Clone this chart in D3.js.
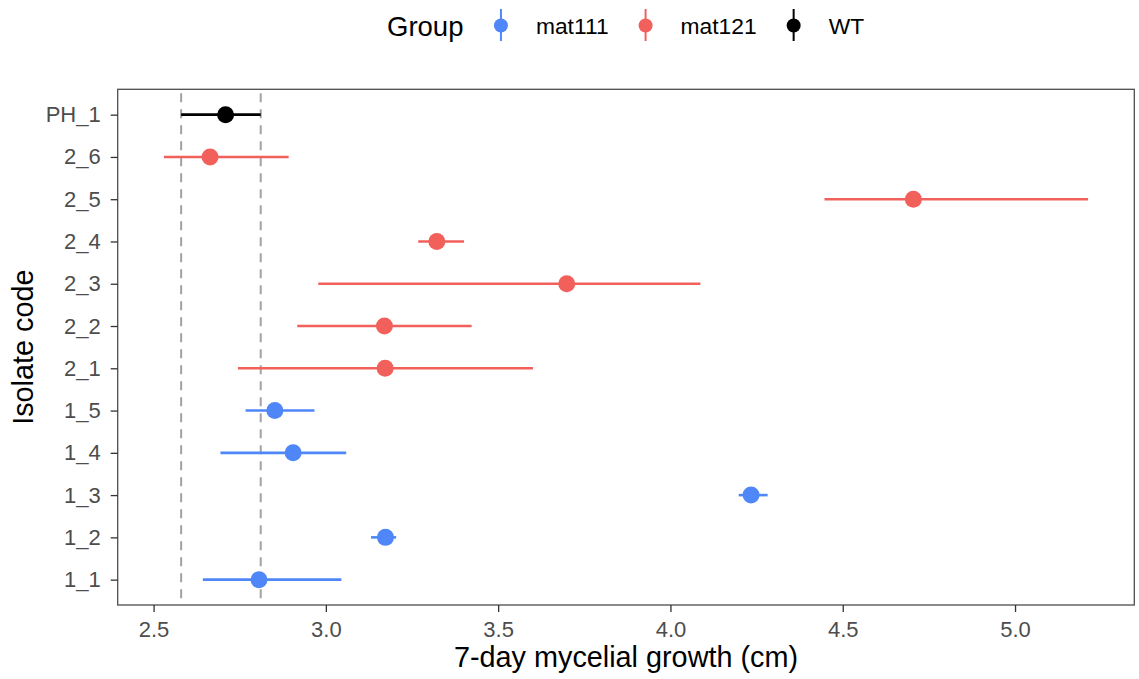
<!DOCTYPE html>
<html>
<head>
<meta charset="utf-8">
<script src="https://cdn.jsdelivr.net/npm/d3@7.9.0/dist/d3.min.js"></script>
<style>
  body { margin: 0; background: #fff; }
  svg text { font-family: "Liberation Sans", Arial, Helvetica, sans-serif; }
</style>
</head>
<body>
<svg id="chart" width="1139" height="679"></svg>
<script>
// isolates listed bottom to top
const isolates = ["1_1", "1_2", "1_3", "1_4", "1_5", "2_1", "2_2", "2_3", "2_4", "2_5", "2_6", "PH_1"];
const groups   = ["mat111", "mat111", "mat111", "mat111", "mat111",
                  "mat121", "mat121", "mat121", "mat121", "mat121", "mat121", "WT"];
const means    = [2.806, 3.173, 4.234, 2.905, 2.852, 3.172, 3.170, 3.699, 3.322, 4.705, 2.664, 2.709];
const lower    = [2.643, 3.131, 4.198, 2.694, 2.767, 2.745, 2.917, 2.978, 3.268, 4.447, 2.530, 2.580];
const upper    = [3.045, 3.204, 4.282, 3.059, 2.967, 3.601, 3.423, 4.087, 3.401, 5.212, 2.892, 2.811];
const refLines = [2.580, 2.811]; // WT range
const groupNames = ["mat111", "mat121", "WT"];
const groupColors = ["#4F87F8", "#F2605C", "#000000"];
const xTicks = [2.5, 3.0, 3.5, 4.0, 4.5, 5.0];

const data = isolates.map((d, i) => ({ id: d, group: groups[i], mean: means[i], lo: lower[i], hi: upper[i] }));

const svg = d3.select("#chart");
const panel = { left: 117.7, right: 1134.3, top: 89.3, bottom: 605 };

const color = d3.scaleOrdinal().domain(groupNames).range(groupColors);

// ggplot-style 5% expansion
const lo = d3.min(lower), hi = d3.max(upper);
const pad = (hi - lo) * 0.05;
const x = d3.scaleLinear()
  .domain([lo - pad, hi + pad])
  .range([panel.left, panel.right]);

const y = d3.scalePoint()
  .domain(isolates)
  .range([panel.bottom, panel.top])
  .padding(0.6);

// reference lines
svg.append("g").selectAll("line")
  .data(refLines)
  .join("line")
  .attr("x1", d => x(d)).attr("x2", d => x(d))
  .attr("y1", panel.top).attr("y2", panel.bottom)
  .attr("stroke", "#A3A3A3")
  .attr("stroke-width", 2)
  .attr("stroke-dasharray", "9,7")
  .attr("stroke-dashoffset", -4);

// error bars
svg.append("g").selectAll("line")
  .data(data)
  .join("line")
  .attr("x1", d => x(d.lo)).attr("x2", d => x(d.hi))
  .attr("y1", d => y(d.id)).attr("y2", d => y(d.id))
  .attr("stroke", d => color(d.group))
  .attr("stroke-width", 2.6);

// points
svg.append("g").selectAll("circle")
  .data(data)
  .join("circle")
  .attr("cx", d => x(d.mean))
  .attr("cy", d => y(d.id))
  .attr("r", 8.5)
  .attr("fill", d => color(d.group));

// panel border
svg.append("rect")
  .attr("x", panel.left).attr("y", panel.top)
  .attr("width", panel.right - panel.left)
  .attr("height", panel.bottom - panel.top)
  .attr("fill", "none")
  .attr("stroke", "#4D4D4D")
  .attr("stroke-width", 1.3);

// axes
const xAxis = svg.append("g")
  .attr("transform", `translate(0,${panel.bottom})`)
  .call(d3.axisBottom(x).tickValues(xTicks).tickFormat(d3.format(".1f"))
    .tickSize(7).tickSizeOuter(0).tickPadding(9.5));

const yAxis = svg.append("g")
  .attr("transform", `translate(${panel.left},0)`)
  .call(d3.axisLeft(y).tickSize(7).tickSizeOuter(0).tickPadding(10));

[xAxis, yAxis].forEach(g => {
  g.select(".domain").remove();
  g.selectAll(".tick line").attr("stroke", "#333").attr("stroke-width", 1.3);
  g.selectAll(".tick text")
    .attr("fill", "#4D4D4D")
    .style("font-size", "22px");
});

// axis titles
svg.append("text")
  .attr("x", (panel.left + panel.right) / 2)
  .attr("y", 667)
  .attr("text-anchor", "middle")
  .style("font-size", "28.8px")
  .text("7-day mycelial growth (cm)");

svg.append("text")
  .attr("transform", `translate(33,${(panel.top + panel.bottom) / 2}) rotate(-90)`)
  .attr("text-anchor", "middle")
  .style("font-size", "28.8px")
  .text("Isolate code");

// legend
const legend = svg.append("g");
const title = legend.append("text")
  .attr("x", 387).attr("y", 35.5)
  .style("font-size", "27.5px")
  .text("Group");
let cx = 387 + title.node().getComputedTextLength() + 37.5;
groupNames.forEach((g, i) => {
  legend.append("line")
    .attr("x1", cx).attr("x2", cx)
    .attr("y1", 9).attr("y2", 41)
    .attr("stroke", groupColors[i])
    .attr("stroke-width", 2);
  legend.append("circle")
    .attr("cx", cx).attr("cy", 25.5).attr("r", 7)
    .attr("fill", groupColors[i]);
  const t = legend.append("text")
    .attr("x", cx + 35).attr("y", 33.5)
    .style("font-size", "22.8px")
    .text(g);
  cx = cx + 35 + t.node().getComputedTextLength() + 37;
});
</script>
</body>
</html>
